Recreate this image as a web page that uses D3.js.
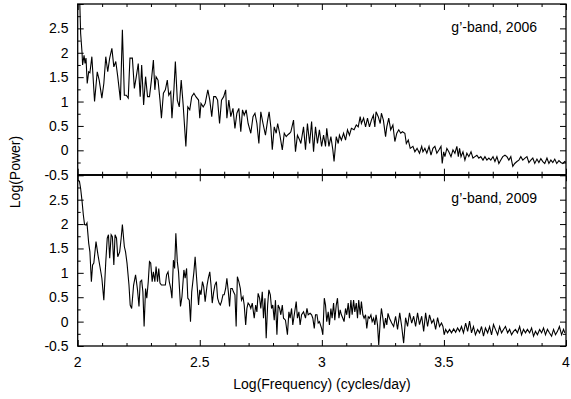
<!DOCTYPE html>
<html><head><meta charset="utf-8">
<script src="https://cdn.jsdelivr.net/npm/d3@7"></script>
<style>body{margin:0;background:#fff}svg{display:block}text{font-family:"Liberation Sans",Arial,Helvetica,sans-serif;fill:#000}</style>
</head><body><svg id="c" width="571" height="399"></svg>
<script>
const freq2006 = [2.007,2.012,2.018,2.020,2.026,2.030,2.034,2.039,2.045,2.050,2.058,2.069,2.080,2.088,2.099,2.107,2.115,2.123,2.131,2.140,2.148,2.156,2.164,2.175,2.183,2.191,2.199,2.207,2.214,2.224,2.232,2.240,2.248,2.256,2.262,2.270,2.278,2.286,2.294,2.302,2.310,2.316,2.321,2.329,2.337,2.343,2.351,2.359,2.367,2.373,2.381,2.386,2.394,2.400,2.408,2.416,2.424,2.432,2.443,2.451,2.459,2.467,2.476,2.484,2.495,2.500,2.505,2.514,2.522,2.533,2.541,2.549,2.557,2.565,2.573,2.581,2.589,2.598,2.606,2.611,2.619,2.627,2.636,2.644,2.652,2.660,2.664,
2.668,2.675,2.682,2.690,2.698,2.709,2.718,2.726,2.734,2.742,2.750,2.759,2.769,2.778,2.784,2.791,2.797,2.805,2.813,2.819,2.827,2.838,2.846,2.854,2.859,2.868,2.873,2.884,2.892,2.900,2.909,2.914,2.925,2.933,2.941,2.950,2.958,2.966,2.974,2.982,2.990,2.999,3.007,3.015,3.020,3.029,3.037,3.045,3.050,3.059,3.067,3.072,3.080,3.089,3.097,3.105,3.113,3.121,3.132,3.141,3.149,3.157,3.162,3.171,3.179,3.187,3.195,3.203,3.211,3.217,3.222,3.231,3.239,3.244,3.252,3.261,3.266,3.274,3.282,3.291,3.299,3.307,3.315,3.323,3.330,
3.340,3.346,3.354,3.362,3.373,3.381,3.390,3.400,3.409,3.414,3.422,3.430,3.439,3.447,3.455,3.463,3.471,3.480,3.488,3.493,3.499,3.504,3.512,3.520,3.529,3.537,3.545,3.553,3.559,3.564,3.570,3.578,3.586,3.594,3.602,3.611,3.619,3.627,3.635,3.643,3.651,3.660,3.668,3.676,3.684,3.692,3.701,3.709,3.717,3.725,3.733,3.741,3.750,3.758,3.766,3.774,3.782,3.790,3.799,3.807,3.815,3.823,3.832,3.840,3.848,3.856,3.864,3.872,3.881,3.889,3.897,3.905,3.913,3.922,3.930,3.938,3.946,3.954,3.962,3.971,3.979,3.987,3.995,4.000];
const power2006 = [3.30,2.40,1.99,1.75,1.95,1.78,1.89,1.37,1.61,1.59,1.92,1.00,1.61,1.44,1.07,1.37,1.92,1.61,1.89,2.09,1.71,1.82,1.51,1.03,2.47,1.13,1.13,1.07,1.89,1.89,1.27,1.51,1.78,1.10,1.75,0.93,1.51,1.10,1.10,1.44,1.85,1.24,1.51,1.44,1.03,0.66,1.17,1.24,1.44,1.13,1.20,0.66,1.24,1.82,1.03,0.89,1.44,0.93,0.08,0.89,0.83,1.10,1.17,1.10,1.03,0.66,0.96,0.89,0.96,1.24,1.03,0.69,1.10,1.10,1.03,0.55,1.03,1.10,1.24,0.66,1.03,0.69,0.86,0.45,0.76,0.86,0.62,
0.38,0.83,0.72,0.83,0.55,0.35,0.69,0.76,0.55,0.14,0.79,0.55,0.31,0.62,0.79,0.48,0.01,0.48,0.35,0.55,0.35,0.01,0.35,0.28,0.31,0.35,0.38,0.62,-0.03,0.31,0.21,0.14,0.48,0.01,0.55,0.14,0.59,-0.03,0.48,0.14,0.42,0.08,0.31,0.08,0.45,0.08,0.28,0.01,-0.23,0.28,0.14,0.31,0.21,0.35,0.21,0.42,0.31,0.45,0.42,0.52,0.48,0.69,0.55,0.66,0.48,0.66,0.48,0.62,0.72,0.48,0.79,0.69,0.55,0.76,0.62,0.28,0.48,0.66,0.42,0.52,0.18,0.35,0.42,0.35,0.38,
0.35,0.14,0.21,0.04,0.08,-0.03,0.04,-0.06,0.08,-0.03,0.04,-0.06,0.08,-0.10,0.04,0.08,-0.06,0.01,0.08,-0.27,-0.03,-0.13,0.04,-0.03,-0.13,0.01,-0.06,0.08,-0.13,0.04,-0.13,-0.03,-0.20,-0.06,-0.13,-0.03,-0.16,-0.13,-0.10,-0.16,-0.13,-0.20,-0.13,-0.20,-0.16,-0.20,-0.13,-0.23,-0.13,-0.27,-0.20,-0.13,-0.10,-0.13,-0.20,-0.13,-0.33,-0.27,-0.23,-0.20,-0.13,-0.20,-0.16,-0.13,-0.25,-0.20,-0.16,-0.27,-0.18,-0.25,-0.17,-0.23,-0.27,-0.16,-0.27,-0.20,-0.25,-0.18,-0.27,-0.21,-0.25,-0.27,-0.23,-0.25];

const freq2009 = [2.000,2.007,2.012,2.018,2.023,2.028,2.034,2.038,2.045,2.050,2.056,2.061,2.066,2.075,2.083,2.091,2.099,2.107,2.115,2.121,2.126,2.131,2.137,2.142,2.148,2.153,2.159,2.164,2.172,2.178,2.183,2.191,2.196,2.202,2.210,2.215,2.221,2.229,2.237,2.245,2.251,2.256,2.262,2.267,2.272,2.278,2.283,2.289,2.294,2.299,2.305,2.310,2.316,2.321,2.327,2.332,2.337,2.343,2.351,2.359,2.364,2.370,2.375,2.381,2.386,2.392,2.397,2.402,2.408,2.413,2.421,2.427,2.435,2.440,2.446,2.451,2.457,2.462,2.467,2.476,2.481,2.486,2.495,2.500,2.505,2.511,2.516,2.522,2.530,2.535,2.541,2.546,2.551,2.557,2.562,2.568,2.573,2.579,2.584,2.589,2.595,2.600,2.606,2.611,2.617,2.622,2.627,2.633,2.638,2.644,2.649,2.654,2.660,
2.666,2.671,2.677,2.682,2.688,2.693,2.698,2.704,2.709,2.715,2.723,2.729,2.734,2.739,2.745,2.750,2.756,2.761,2.767,2.772,2.778,2.783,2.789,2.794,2.799,2.805,2.810,2.816,2.821,2.827,2.832,2.838,2.843,2.851,2.859,2.865,2.870,2.876,2.881,2.887,2.895,2.900,2.906,2.911,2.917,2.925,2.933,2.939,2.944,2.952,2.958,2.963,2.969,2.974,2.980,2.985,2.990,2.999,3.004,3.010,3.015,3.020,3.026,3.031,3.037,3.042,3.048,3.053,3.059,3.064,3.070,3.075,3.080,3.086,3.091,3.097,3.102,3.108,3.113,3.119,3.124,3.130,3.135,3.141,3.146,3.151,3.157,3.162,3.168,3.173,3.179,3.184,3.190,3.195,3.201,3.206,3.212,3.217,3.222,3.228,3.233,3.239,3.244,3.250,3.255,3.261,3.266,3.271,3.277,
3.286,3.294,3.302,3.310,3.319,3.327,3.335,3.343,3.351,3.359,3.368,3.376,3.384,3.392,3.400,3.409,3.417,3.425,3.433,3.441,3.450,3.458,3.466,3.474,3.482,3.490,3.496,3.501,3.507,3.515,3.523,3.531,3.540,3.548,3.556,3.564,3.572,3.580,3.589,3.597,3.605,3.613,3.621,3.629,3.638,3.646,3.654,3.662,3.670,3.679,3.687,3.695,3.703,3.711,3.720,3.728,3.736,3.744,3.752,3.761,3.769,3.777,3.785,3.793,3.801,3.810,3.818,3.826,3.834,3.842,3.851,3.859,3.867,3.875,3.883,3.892,3.900,3.908,3.916,3.924,3.932,3.941,3.949,3.957,3.965,3.973,3.982,3.990,3.995];
const power2009 = [2.90,2.88,2.73,2.46,2.19,1.99,1.98,2.02,1.61,1.43,0.82,1.16,1.20,1.64,1.37,1.13,0.89,0.44,1.23,1.71,1.78,1.30,1.78,1.74,1.16,1.78,1.71,1.33,1.43,1.71,1.99,1.54,1.43,1.20,0.75,0.34,0.27,0.75,0.96,0.65,0.31,0.82,0.85,0.61,-0.10,0.68,0.48,0.82,1.23,1.20,0.82,1.02,0.82,1.13,0.82,1.09,0.79,0.75,0.75,0.75,0.96,1.02,0.82,0.68,0.48,1.26,1.09,1.81,1.23,1.02,0.31,0.51,1.06,0.89,1.09,0.48,0.44,0.00,0.61,1.02,1.33,0.96,0.34,0.65,0.55,0.82,0.72,0.41,0.75,0.89,1.02,0.75,0.38,0.61,0.75,0.82,0.48,0.38,0.34,0.41,0.55,0.55,0.68,0.89,0.61,0.31,0.68,0.68,0.61,0.55,-0.10,0.92,0.82,
0.68,0.44,0.51,0.34,-0.07,0.27,0.38,0.34,0.27,0.38,0.07,0.34,0.20,0.58,0.48,0.27,0.61,0.07,0.48,-0.34,0.34,0.65,0.55,0.27,0.34,0.03,0.44,-0.27,0.34,0.27,0.14,0.34,0.07,0.03,-0.27,0.20,0.07,0.27,-0.07,0.14,0.41,0.07,0.20,-0.07,0.14,0.20,0.07,0.27,0.14,0.17,0.14,0.07,-0.14,0.14,0.14,-0.03,0.00,-0.14,-0.27,0.48,0.34,0.00,0.20,-0.07,0.27,0.07,0.38,0.03,0.34,0.48,0.07,0.24,0.14,0.07,0.00,0.27,0.14,0.38,0.07,0.44,0.14,0.44,0.20,0.38,0.07,0.44,0.14,0.41,0.14,0.07,0.14,-0.14,0.10,0.07,0.14,0.00,0.07,-0.07,0.14,-0.07,-0.48,0.00,0.27,0.07,-0.14,0.07,-0.07,0.17,0.07,
-0.03,-0.10,0.11,-0.16,0.18,-0.10,-0.44,0.08,-0.10,0.18,-0.03,0.11,-0.10,0.18,-0.06,0.11,-0.20,0.18,-0.10,0.14,-0.03,0.04,-0.16,0.08,-0.10,-0.03,-0.10,-0.27,-0.16,-0.23,-0.16,-0.23,-0.15,-0.22,-0.13,-0.20,-0.10,-0.23,-0.03,-0.20,0.01,-0.23,-0.10,-0.27,-0.16,-0.23,-0.10,-0.30,-0.13,-0.23,-0.10,-0.27,-0.06,-0.16,-0.27,-0.10,-0.23,-0.16,-0.10,-0.23,-0.16,-0.27,-0.20,-0.16,-0.23,-0.10,-0.27,-0.16,-0.23,-0.16,-0.23,-0.13,-0.30,-0.20,-0.27,-0.16,-0.23,-0.13,-0.27,-0.16,-0.23,-0.30,-0.16,-0.27,-0.20,-0.10,-0.27,-0.16,-0.23];

const xMajorTicks = [2, 2.5, 3, 3.5, 4];
const xTickLabels = ["2", "2.5", "3", "3.5", "4"];
const yMajorTicks = [-0.5, 0, 0.5, 1, 1.5, 2, 2.5];
const yTickLabels = ["-0.5", "0", "0.5", "1", "1.5", "2", "2.5"];
const panelLabels = ["g\u2019-band, 2006", "g\u2019-band, 2009"];
const xTitle = "Log(Frequency) (cycles/day)";
const yTitle = "Log(Power)";

const svg = d3.select("#c");
const L = 77.7, R = 566;
const x = d3.scaleLinear().domain([2, 4]).range([L, R]);
const panels = [
  {top: 4, bottom: 174.7, f: freq2006, p: power2006, label: panelLabels[0]},
  {top: 175.3, bottom: 346, f: freq2009, p: power2009, label: panelLabels[1]}
];
const xMinor = d3.range(20, 41).map(d => d / 10);
const yMinor = d3.range(-2, 13).map(d => d / 4);

panels.forEach((pn, i) => {
  const y = d3.scaleLinear().domain([-0.5, 3]).range([pn.bottom, pn.top]);
  const g = svg.append("g");
  const cid = "clip" + i;
  svg.append("clipPath").attr("id", cid).append("rect")
    .attr("x", L).attr("y", pn.top).attr("width", R - L).attr("height", pn.bottom - pn.top);
  const data = pn.f.map((f, k) => [f, pn.p[k]]);
  g.append("path").datum(data)
    .attr("clip-path", `url(#${cid})`)
    .attr("fill", "none").attr("stroke", "#000").attr("stroke-width", 1.1)
    .attr("stroke-linejoin", "miter")
    .attr("d", d3.line().x(d => x(d[0])).y(d => y(d[1])));

  // axes with inward ticks
  const mk = (axisFn, scale, vals, size) => axisFn(scale).tickValues(vals).tickSize(size).tickFormat("");
  const isMaj = v => Math.abs(v * 2 - Math.round(v * 2)) < 1e-6;
  const xmin = xMinor.filter(v => !isMaj(v));
  const ymin = yMinor.filter(v => !isMaj(v));
  const ymaj = yMinor.filter(v => isMaj(v));
  const add = (transform, axis) => {
    const a = g.append("g").attr("transform", transform).call(axis);
    a.select(".domain").remove();
    a.selectAll("line").attr("stroke", "#000").attr("stroke-width", 1);
  };
  add(`translate(0,${pn.bottom})`, mk(d3.axisTop, x, xMajorTicks, 6));
  add(`translate(0,${pn.bottom})`, mk(d3.axisTop, x, xmin, 3));
  add(`translate(0,${pn.top})`, mk(d3.axisBottom, x, xMajorTicks, 6));
  add(`translate(0,${pn.top})`, mk(d3.axisBottom, x, xmin, 3));
  add(`translate(${L},0)`, mk(d3.axisRight, y, ymaj, 6));
  add(`translate(${L},0)`, mk(d3.axisRight, y, ymin, 3));
  add(`translate(${R},0)`, mk(d3.axisLeft, y, ymaj, 6));
  add(`translate(${R},0)`, mk(d3.axisLeft, y, ymin, 3));

  g.append("rect").attr("x", L).attr("y", pn.top).attr("width", R - L).attr("height", pn.bottom - pn.top)
    .attr("fill", "none").attr("stroke", "#000").attr("stroke-width", 1.3);

  // y tick labels
  g.selectAll("text.yl").data(yMajorTicks).enter().append("text")
    .attr("x", 68.5).attr("y", d => y(d) + 5).attr("text-anchor", "end")
    .attr("font-size", 14).text((d, k) => yTickLabels[k]);

  g.append("text").attr("x", 537).attr("y", pn.top + 28).attr("text-anchor", "end")
    .attr("font-size", 14).text(pn.label);
});

svg.selectAll("text.xl").data(xMajorTicks).enter().append("text")
  .attr("x", d => x(d)).attr("y", 367).attr("text-anchor", "middle")
  .attr("font-size", 14).text((d, k) => xTickLabels[k]);

svg.append("text").attr("x", 322).attr("y", 389).attr("text-anchor", "middle")
  .attr("font-size", 14).text(xTitle);
svg.append("text").attr("transform", "translate(20,172) rotate(-90)").attr("text-anchor", "middle")
  .attr("font-size", 14).text(yTitle);
</script></body></html>
